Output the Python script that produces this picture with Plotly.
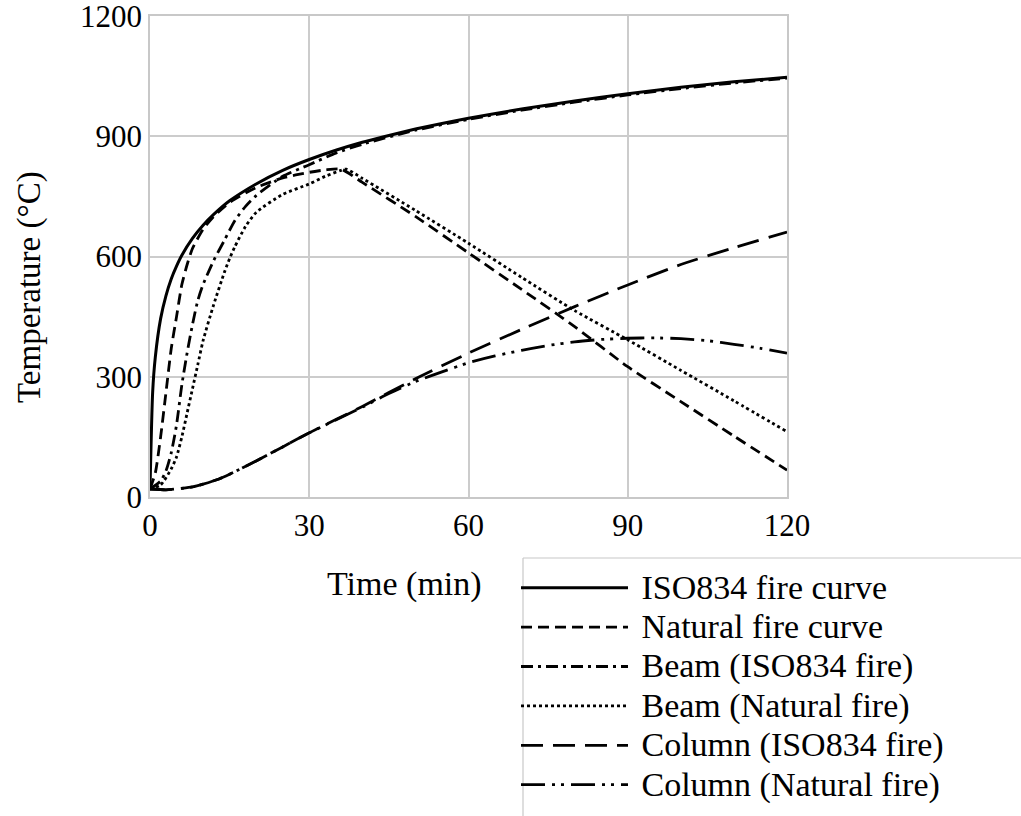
import plotly.graph_objects as go

# ---- data ----
t_iso = [0, 0.5, 1, 2, 3, 4, 5, 6, 8, 10, 12, 15, 20, 25, 30, 35, 40, 45, 50, 55, 60, 70, 80, 90, 100, 110, 120]
T_iso = [20, 261, 349, 445, 502, 544, 576, 603, 645, 678, 705, 739, 781, 815, 842, 865, 885, 902, 918, 932, 945, 968, 988, 1006, 1022, 1036, 1047]

t_nat = [0, 1, 2, 3, 4, 5, 6, 7, 8, 10, 12, 15, 20, 25, 30, 33, 36, 40, 50, 60, 70, 80, 90, 100, 110, 120]
T_nat = [20, 60, 150, 260, 370, 450, 530, 580, 620, 668, 700, 735, 772, 796, 810, 816, 818, 785, 700, 609, 518, 425, 325, 238, 152, 67]

t_beam_iso = [0, 2, 3, 4, 5, 6, 7, 8, 9, 10, 12, 14, 16, 18, 20, 25, 30, 35, 40, 50, 60, 70, 80, 90, 100, 110, 120]
T_beam_iso = [20, 40, 65, 110, 180, 280, 360, 430, 490, 530, 590, 640, 690, 725, 752, 800, 829, 858, 880, 915, 942, 965, 985, 1003, 1019, 1033, 1045]

t_beam_nat = [0, 2, 4, 5, 6, 7, 8, 9, 10, 12, 14, 15, 16, 18, 20, 25, 30, 33, 36, 37, 40, 50, 60, 70, 80, 90, 100, 110, 120]
T_beam_nat = [20, 30, 70, 100, 150, 210, 270, 330, 390, 480, 560, 595, 625, 675, 710, 755, 781, 800, 815, 818, 795, 715, 633, 548, 465, 392, 316, 240, 163]

t_col_iso = [0, 3, 5, 8, 10, 13, 15, 20, 25, 30, 40, 50, 60, 70, 80, 90, 100, 110, 120]
T_col_iso = [20, 18, 20, 25, 32, 45, 57, 90, 125, 160, 226, 295, 359, 418, 475, 529, 580, 622, 661]

t_col_nat = [0, 3, 5, 8, 10, 13, 15, 20, 25, 30, 40, 45, 50, 55, 60, 65, 70, 75, 80, 85, 90, 95, 100, 105, 110, 115, 120]
T_col_nat = [20, 18, 20, 25, 32, 45, 57, 90, 125, 160, 224, 258, 288, 312, 335, 352, 366, 378, 387, 393, 396, 397, 395, 390, 381, 371, 359]

names = ["ISO834 fire curve", "Natural fire curve", "Beam (ISO834 fire)",
         "Beam (Natural fire)", "Column (ISO834 fire)", "Column (Natural fire)"]
x_ticks = [0, 30, 60, 90, 120]
y_ticks = [0, 300, 600, 900, 1200]

series = [
    (t_iso, T_iso, "solid", 3),
    (t_nat, T_nat, "11px,6px", 2.8),
    (t_beam_iso, T_beam_iso, "12px,5px,3px,5px", 2.8),
    (t_beam_nat, T_beam_nat, "3px,3px", 2.8),
    (t_col_iso, T_col_iso, "22px,10px", 2.8),
    (t_col_nat, T_col_nat, "24px,7px,3px,6px,3px,7px", 2.8),
]

FONT = "Liberation Serif"
W, H = 1021, 816
L, R, T, B = 150, 787, 16, 497
pw, ph = R - L, B - T


def px(xp):
    return (xp - L) / pw


def py(yp):
    return (B - yp) / ph


fig = go.Figure()
for (xs, ys, dash, w), nm in zip(series, names):
    fig.add_trace(go.Scatter(
        x=xs, y=ys, mode="lines", line_shape="spline", line_smoothing=0.6,
        name='<span style="font-size:34px">\u00a0' + nm + '</span>',
        line=dict(color="black", width=w, dash=dash)))

fig.update_layout(
    width=W, height=H,
    margin=dict(l=L, r=W - R, t=T, b=H - B, autoexpand=False),
    paper_bgcolor="white", plot_bgcolor="white",
    font=dict(family=FONT, color="black", size=31),
    showlegend=True,
    legend=dict(
        x=px(516), y=py(563), xanchor="left", yanchor="top",
        bgcolor="rgba(0,0,0,0)", borderwidth=0,
        font=dict(family=FONT, size=28, color="black"),
        itemwidth=107, tracegroupgap=0,
    ),
    shapes=[
        dict(type="line", xref="paper", yref="paper",
             x0=px(523), x1=px(1030), y0=py(558), y1=py(558),
             line=dict(color="#c8c8c8", width=1.2)),
        dict(type="line", xref="paper", yref="paper",
             x0=px(523), x1=px(523), y0=py(558), y1=py(830),
             line=dict(color="#c8c8c8", width=1.2)),
    ],
    annotations=[
        dict(text="Time (min)", x=px(404), y=py(584),
             xref="paper", yref="paper", showarrow=False,
             font=dict(family=FONT, size=34, color="black"),
             xanchor="center", yanchor="middle"),
        dict(text="Temperature (°C)", x=px(29), y=py(287),
             xref="paper", yref="paper", showarrow=False, textangle=-90,
             font=dict(family=FONT, size=33, color="black"),
             xanchor="center", yanchor="middle"),
    ],
)
axis_style = dict(showgrid=True, gridcolor="#cccccc", gridwidth=1.5,
                  showline=True, mirror=True, linecolor="#c8c8c8", linewidth=1.5,
                  zeroline=False, ticks="", ticklabeloverflow="allow",
                  tickfont=dict(family=FONT, size=31, color="black"))
fig.update_xaxes(range=[0, 120], tickvals=x_ticks, **axis_style)
fig.update_yaxes(range=[0, 1200], tickvals=y_ticks, **axis_style)

fig.write_html("out.html")
